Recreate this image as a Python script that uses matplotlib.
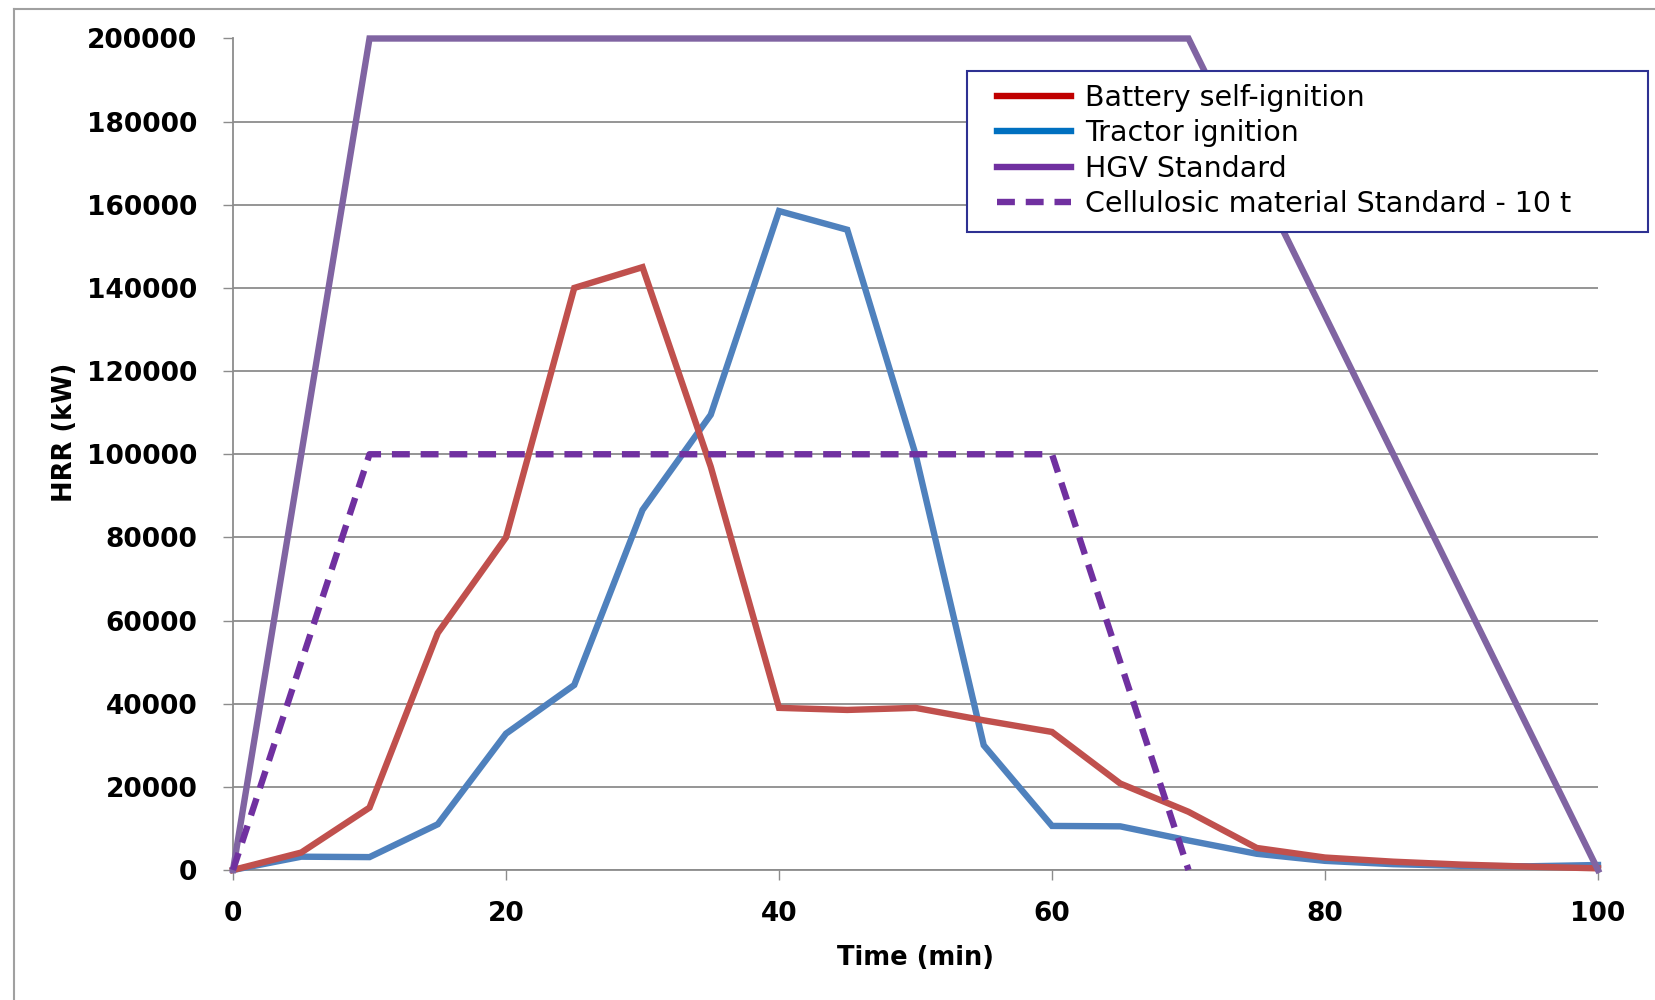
import matplotlib
matplotlib.use("Agg")
import matplotlib.pyplot as plt
from matplotlib.lines import Line2D
from matplotlib.patches import Rectangle

# ---- data ----
time_min = [0, 5, 10, 15, 20, 25, 30, 35, 40, 45, 50, 55, 60, 65, 70, 75, 80, 85, 90, 95, 100]
battery = [0, 4200, 15000, 57000, 80000, 140000, 145000, 97000, 39000, 38500, 39000,
           36000, 33200, 20800, 14000, 5300, 3000, 2000, 1300, 800, 400]
tractor = [0, 3200, 3100, 11000, 32800, 44500, 86600, 109500, 158500, 154000, 100000,
           30000, 10600, 10500, 7100, 3900, 2200, 1400, 1000, 900, 1200]
hgv_t = [0, 10, 70, 100]
hgv = [0, 200000, 200000, 0]
cell_t = [0, 10, 60, 70]
cell = [0, 100000, 100000, 0]

labels = ["Battery self-ignition", "Tractor ignition", "HGV Standard",
          "Cellulosic material Standard - 10 t"]
xticks = [0, 20, 40, 60, 80, 100]
yticks = list(range(0, 200001, 20000))

W, H = 1655, 1000
fig = plt.figure(figsize=(W / 100, H / 100), dpi=100)
ax = fig.add_axes([233 / W, 1 - 870 / H, (1598 - 233) / W, (870 - 38.5) / H])

grid_c = "#8c8c8c"
lw = 4.6
dash = (0, (2.8, 1.7))
ax.plot(time_min, tractor, color="#4F81BD", lw=lw, zorder=3, solid_joinstyle="miter",
        clip_on=False)
ax.plot(time_min, battery, color="#C0504D", lw=lw, zorder=3.1, solid_joinstyle="miter",
        clip_on=False)
ax.plot(hgv_t, hgv, color="#8064A2", lw=lw, zorder=3.2, solid_joinstyle="miter",
        clip_on=False)
ax.plot(cell_t, cell, color="#7030A0", lw=lw, ls=dash, zorder=3.3, clip_on=False)

ax.set_xlim(0, 100)
ax.set_ylim(0, 200000)
ax.set_xticks(xticks)
ax.set_yticks(yticks)
ax.set_xticklabels([str(v) for v in xticks])
ax.set_yticklabels([str(v) for v in yticks])
ax.grid(axis="y", color=grid_c, lw=1.3, zorder=1)
ax.set_axisbelow(True)
for s in ["top", "right"]:
    ax.spines[s].set_visible(False)
for s in ["left", "bottom"]:
    ax.spines[s].set_color(grid_c)
    ax.spines[s].set_linewidth(1.3)
ax.tick_params(axis="both", direction="out", length=7.5, width=1.0, color=grid_c,
               labelsize=19)
ax.tick_params(axis="y", pad=18)
ax.tick_params(axis="x", pad=15)
for lab in ax.get_xticklabels() + ax.get_yticklabels():
    lab.set_fontweight("bold")

ax.set_xlabel("Time (min)", fontsize=18.5, fontweight="bold", va="center")
ax.xaxis.set_label_coords(0.5, (870 - 958) / (870 - 38.5))
ax.set_ylabel("HRR (kW)", fontsize=18.5, fontweight="bold", va="center")
ax.yaxis.set_label_coords((65 - 233) / (1598 - 233), (870 - 432) / (870 - 38.5))

# legend
handles = [
    Line2D([], [], color="#C00000", lw=lw),
    Line2D([], [], color="#0070C0", lw=lw),
    Line2D([], [], color="#7030A0", lw=lw),
    Line2D([], [], color="#7030A0", lw=lw, ls=dash),
]
box = Rectangle((967 / W, 1 - 232 / H), (1648 - 967) / W, (232 - 71) / H,
                transform=fig.transFigure, facecolor="white", edgecolor="#2E3192",
                lw=1.5, zorder=5, clip_on=False)
ax.add_patch(box)
leg = ax.legend(handles, labels, loc="upper left",
                bbox_to_anchor=(994 / W, 1 - 81 / H), bbox_transform=fig.transFigure,
                frameon=False, fontsize=20.5, handlelength=2.6, handletextpad=0.5,
                labelspacing=0.26, borderpad=0.1, borderaxespad=0)
leg.set_zorder(6)

# outer chart frame
fig.add_artist(Line2D([14 / W, 14 / W], [0, 1 - 9 / H], color="#a0a0a0", lw=1.5,
                      transform=fig.transFigure))
fig.add_artist(Line2D([14 / W, 1], [1 - 9 / H, 1 - 9 / H], color="#a0a0a0", lw=1.5,
                      transform=fig.transFigure))

fig.savefig("out.png", dpi=100)
